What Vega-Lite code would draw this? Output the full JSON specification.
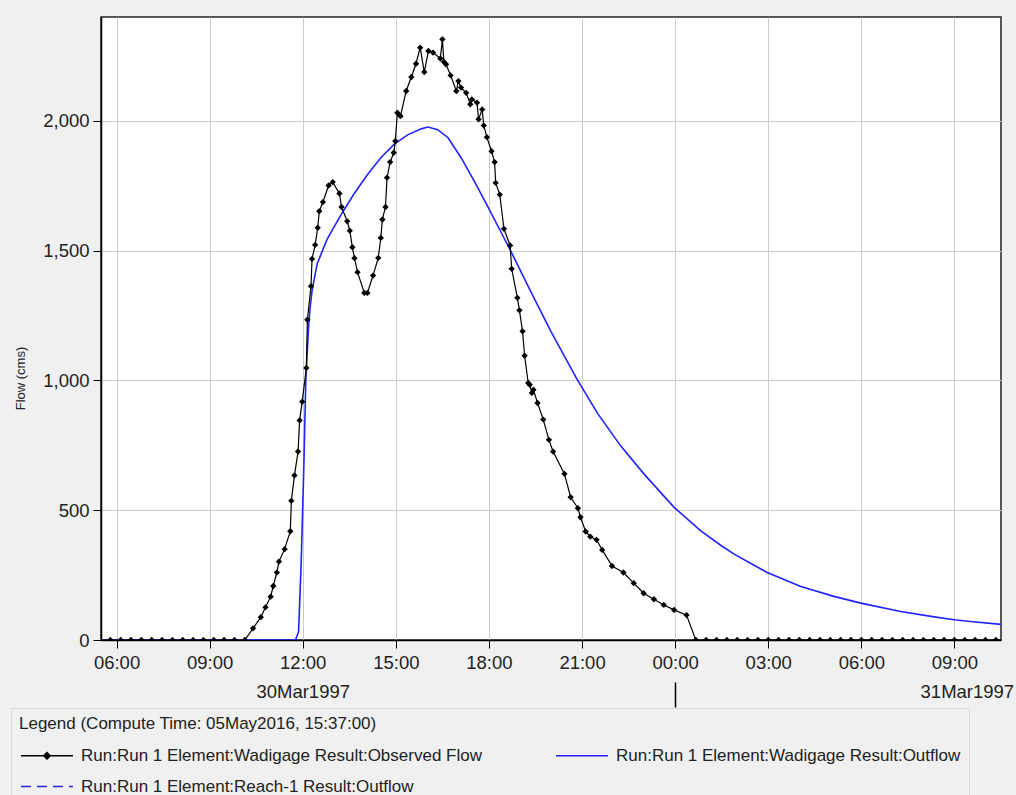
{
  "$schema": "https://vega.github.io/schema/vega-lite/v6.json",
  "width": 900,
  "height": 623,
  "autosize": "none",
  "padding": {"left": 101, "top": 17, "right": 15, "bottom": 155},
  "background": "#f0f0f0",
  "config": {
    "font": "Liberation Sans",
    "view": {"fill": "white", "stroke": "#222222", "strokeWidth": 1.5},
    "axis": {
      "domainColor": "#000000",
      "tickColor": "#000000",
      "labelColor": "#222222",
      "titleColor": "#222222",
      "gridColor": "#cccccc",
      "gridWidth": 1,
      "labelFont": "Liberation Sans",
      "titleFont": "Liberation Sans",
      "labelFontSize": 18.5,
      "titleFontWeight": "normal",
      "labelFlush": false,
      "labelOverlap": false
    },
    "axisY": {"titleFontSize": 13}
  },
  "datasets": {
    "observed": [
      {"time": "1997-03-30T05:28:00Z", "flow": 0},
      {"time": "1997-03-30T05:48:00Z", "flow": 0},
      {"time": "1997-03-30T06:08:00Z", "flow": 0},
      {"time": "1997-03-30T06:28:00Z", "flow": 0},
      {"time": "1997-03-30T06:48:00Z", "flow": 0},
      {"time": "1997-03-30T07:08:00Z", "flow": 0},
      {"time": "1997-03-30T07:28:00Z", "flow": 0},
      {"time": "1997-03-30T07:48:00Z", "flow": 0},
      {"time": "1997-03-30T08:08:00Z", "flow": 0},
      {"time": "1997-03-30T08:28:00Z", "flow": 0},
      {"time": "1997-03-30T08:48:00Z", "flow": 0},
      {"time": "1997-03-30T09:08:00Z", "flow": 0},
      {"time": "1997-03-30T09:28:00Z", "flow": 0},
      {"time": "1997-03-30T09:48:00Z", "flow": 0},
      {"time": "1997-03-30T10:08:00Z", "flow": 0},
      {"time": "1997-03-30T10:24:00Z", "flow": 45},
      {"time": "1997-03-30T10:39:00Z", "flow": 88},
      {"time": "1997-03-30T10:48:00Z", "flow": 126},
      {"time": "1997-03-30T10:58:00Z", "flow": 167},
      {"time": "1997-03-30T11:03:00Z", "flow": 208},
      {"time": "1997-03-30T11:10:00Z", "flow": 260},
      {"time": "1997-03-30T11:14:00Z", "flow": 302},
      {"time": "1997-03-30T11:25:00Z", "flow": 350},
      {"time": "1997-03-30T11:36:00Z", "flow": 419},
      {"time": "1997-03-30T11:38:00Z", "flow": 536},
      {"time": "1997-03-30T11:44:00Z", "flow": 634},
      {"time": "1997-03-30T11:51:00Z", "flow": 726},
      {"time": "1997-03-30T11:54:00Z", "flow": 846},
      {"time": "1997-03-30T11:59:00Z", "flow": 918},
      {"time": "1997-03-30T12:07:00Z", "flow": 1048},
      {"time": "1997-03-30T12:09:00Z", "flow": 1234},
      {"time": "1997-03-30T12:16:00Z", "flow": 1363},
      {"time": "1997-03-30T12:18:00Z", "flow": 1468},
      {"time": "1997-03-30T12:24:00Z", "flow": 1522},
      {"time": "1997-03-30T12:29:00Z", "flow": 1588},
      {"time": "1997-03-30T12:32:00Z", "flow": 1652},
      {"time": "1997-03-30T12:39:00Z", "flow": 1687},
      {"time": "1997-03-30T12:50:00Z", "flow": 1751},
      {"time": "1997-03-30T12:58:00Z", "flow": 1764},
      {"time": "1997-03-30T13:11:00Z", "flow": 1720},
      {"time": "1997-03-30T13:15:00Z", "flow": 1668},
      {"time": "1997-03-30T13:26:00Z", "flow": 1613},
      {"time": "1997-03-30T13:31:00Z", "flow": 1577},
      {"time": "1997-03-30T13:36:00Z", "flow": 1513},
      {"time": "1997-03-30T13:40:00Z", "flow": 1471},
      {"time": "1997-03-30T13:46:00Z", "flow": 1417},
      {"time": "1997-03-30T13:59:00Z", "flow": 1337},
      {"time": "1997-03-30T14:05:00Z", "flow": 1337},
      {"time": "1997-03-30T14:16:00Z", "flow": 1404},
      {"time": "1997-03-30T14:26:00Z", "flow": 1472},
      {"time": "1997-03-30T14:31:00Z", "flow": 1549},
      {"time": "1997-03-30T14:34:00Z", "flow": 1620},
      {"time": "1997-03-30T14:40:00Z", "flow": 1668},
      {"time": "1997-03-30T14:43:00Z", "flow": 1781},
      {"time": "1997-03-30T14:49:00Z", "flow": 1841},
      {"time": "1997-03-30T14:56:00Z", "flow": 1877},
      {"time": "1997-03-30T14:59:00Z", "flow": 1922},
      {"time": "1997-03-30T15:03:00Z", "flow": 2031},
      {"time": "1997-03-30T15:09:00Z", "flow": 2018},
      {"time": "1997-03-30T15:20:00Z", "flow": 2115},
      {"time": "1997-03-30T15:30:00Z", "flow": 2169},
      {"time": "1997-03-30T15:39:00Z", "flow": 2220},
      {"time": "1997-03-30T15:47:00Z", "flow": 2282},
      {"time": "1997-03-30T15:55:00Z", "flow": 2188},
      {"time": "1997-03-30T16:03:00Z", "flow": 2269},
      {"time": "1997-03-30T16:12:00Z", "flow": 2263},
      {"time": "1997-03-30T16:26:00Z", "flow": 2240},
      {"time": "1997-03-30T16:30:00Z", "flow": 2314},
      {"time": "1997-03-30T16:33:00Z", "flow": 2227},
      {"time": "1997-03-30T16:37:00Z", "flow": 2218},
      {"time": "1997-03-30T16:46:00Z", "flow": 2175},
      {"time": "1997-03-30T16:57:00Z", "flow": 2115},
      {"time": "1997-03-30T17:01:00Z", "flow": 2153},
      {"time": "1997-03-30T17:06:00Z", "flow": 2128},
      {"time": "1997-03-30T17:16:00Z", "flow": 2108},
      {"time": "1997-03-30T17:24:00Z", "flow": 2064},
      {"time": "1997-03-30T17:27:00Z", "flow": 2083},
      {"time": "1997-03-30T17:37:00Z", "flow": 2070},
      {"time": "1997-03-30T17:40:00Z", "flow": 2006},
      {"time": "1997-03-30T17:47:00Z", "flow": 2044},
      {"time": "1997-03-30T17:50:00Z", "flow": 1982},
      {"time": "1997-03-30T17:56:00Z", "flow": 1937},
      {"time": "1997-03-30T18:05:00Z", "flow": 1883},
      {"time": "1997-03-30T18:11:00Z", "flow": 1841},
      {"time": "1997-03-30T18:13:00Z", "flow": 1761},
      {"time": "1997-03-30T18:21:00Z", "flow": 1716},
      {"time": "1997-03-30T18:29:00Z", "flow": 1584},
      {"time": "1997-03-30T18:41:00Z", "flow": 1520},
      {"time": "1997-03-30T18:44:00Z", "flow": 1430},
      {"time": "1997-03-30T18:55:00Z", "flow": 1318},
      {"time": "1997-03-30T18:59:00Z", "flow": 1270},
      {"time": "1997-03-30T19:05:00Z", "flow": 1189},
      {"time": "1997-03-30T19:09:00Z", "flow": 1095},
      {"time": "1997-03-30T19:16:00Z", "flow": 990},
      {"time": "1997-03-30T19:19:00Z", "flow": 983},
      {"time": "1997-03-30T19:23:00Z", "flow": 952},
      {"time": "1997-03-30T19:26:00Z", "flow": 964},
      {"time": "1997-03-30T19:34:00Z", "flow": 913},
      {"time": "1997-03-30T19:45:00Z", "flow": 849},
      {"time": "1997-03-30T19:56:00Z", "flow": 771},
      {"time": "1997-03-30T20:04:00Z", "flow": 726},
      {"time": "1997-03-30T20:26:00Z", "flow": 640},
      {"time": "1997-03-30T20:38:00Z", "flow": 550},
      {"time": "1997-03-30T20:52:00Z", "flow": 508},
      {"time": "1997-03-30T20:57:00Z", "flow": 473},
      {"time": "1997-03-30T21:07:00Z", "flow": 418},
      {"time": "1997-03-30T21:16:00Z", "flow": 398},
      {"time": "1997-03-30T21:28:00Z", "flow": 386},
      {"time": "1997-03-30T21:39:00Z", "flow": 347},
      {"time": "1997-03-30T21:58:00Z", "flow": 285},
      {"time": "1997-03-30T22:20:00Z", "flow": 260},
      {"time": "1997-03-30T22:40:00Z", "flow": 219},
      {"time": "1997-03-30T22:59:00Z", "flow": 180},
      {"time": "1997-03-30T23:19:00Z", "flow": 157},
      {"time": "1997-03-30T23:38:00Z", "flow": 135},
      {"time": "1997-03-30T23:58:00Z", "flow": 116},
      {"time": "1997-03-31T00:22:00Z", "flow": 96},
      {"time": "1997-03-31T00:40:00Z", "flow": 0},
      {"time": "1997-03-31T01:00:00Z", "flow": 0},
      {"time": "1997-03-31T01:20:00Z", "flow": 0},
      {"time": "1997-03-31T01:40:00Z", "flow": 0},
      {"time": "1997-03-31T02:00:00Z", "flow": 0},
      {"time": "1997-03-31T02:20:00Z", "flow": 0},
      {"time": "1997-03-31T02:40:00Z", "flow": 0},
      {"time": "1997-03-31T03:00:00Z", "flow": 0},
      {"time": "1997-03-31T03:20:00Z", "flow": 0},
      {"time": "1997-03-31T03:40:00Z", "flow": 0},
      {"time": "1997-03-31T04:00:00Z", "flow": 0},
      {"time": "1997-03-31T04:20:00Z", "flow": 0},
      {"time": "1997-03-31T04:40:00Z", "flow": 0},
      {"time": "1997-03-31T05:00:00Z", "flow": 0},
      {"time": "1997-03-31T05:20:00Z", "flow": 0},
      {"time": "1997-03-31T05:40:00Z", "flow": 0},
      {"time": "1997-03-31T06:00:00Z", "flow": 0},
      {"time": "1997-03-31T06:20:00Z", "flow": 0},
      {"time": "1997-03-31T06:40:00Z", "flow": 0},
      {"time": "1997-03-31T07:00:00Z", "flow": 0},
      {"time": "1997-03-31T07:20:00Z", "flow": 0},
      {"time": "1997-03-31T07:40:00Z", "flow": 0},
      {"time": "1997-03-31T08:00:00Z", "flow": 0},
      {"time": "1997-03-31T08:20:00Z", "flow": 0},
      {"time": "1997-03-31T08:40:00Z", "flow": 0},
      {"time": "1997-03-31T09:00:00Z", "flow": 0},
      {"time": "1997-03-31T09:20:00Z", "flow": 0},
      {"time": "1997-03-31T09:40:00Z", "flow": 0},
      {"time": "1997-03-31T10:00:00Z", "flow": 0},
      {"time": "1997-03-31T10:20:00Z", "flow": 0},
      {"time": "1997-03-31T10:40:00Z", "flow": 0}
    ],
    "outflow": [
      {"time": "1997-03-30T05:30:00Z", "flow": 0},
      {"time": "1997-03-30T11:46:00Z", "flow": 0},
      {"time": "1997-03-30T11:52:00Z", "flow": 32},
      {"time": "1997-03-30T11:57:00Z", "flow": 297},
      {"time": "1997-03-30T12:02:00Z", "flow": 656},
      {"time": "1997-03-30T12:06:00Z", "flow": 1003},
      {"time": "1997-03-30T12:11:00Z", "flow": 1196},
      {"time": "1997-03-30T12:14:00Z", "flow": 1275},
      {"time": "1997-03-30T12:18:00Z", "flow": 1345},
      {"time": "1997-03-30T12:28:00Z", "flow": 1450},
      {"time": "1997-03-30T12:47:00Z", "flow": 1543},
      {"time": "1997-03-30T13:13:00Z", "flow": 1635},
      {"time": "1997-03-30T13:39:00Z", "flow": 1718},
      {"time": "1997-03-30T14:05:00Z", "flow": 1792},
      {"time": "1997-03-30T14:31:00Z", "flow": 1858},
      {"time": "1997-03-30T14:57:00Z", "flow": 1910},
      {"time": "1997-03-30T15:23:00Z", "flow": 1946},
      {"time": "1997-03-30T15:49:00Z", "flow": 1969},
      {"time": "1997-03-30T16:02:00Z", "flow": 1976},
      {"time": "1997-03-30T16:21:00Z", "flow": 1966},
      {"time": "1997-03-30T16:41:00Z", "flow": 1935},
      {"time": "1997-03-30T17:07:00Z", "flow": 1855},
      {"time": "1997-03-30T17:33:00Z", "flow": 1763},
      {"time": "1997-03-30T17:59:00Z", "flow": 1665},
      {"time": "1997-03-30T18:25:00Z", "flow": 1565},
      {"time": "1997-03-30T18:41:00Z", "flow": 1503},
      {"time": "1997-03-30T19:20:00Z", "flow": 1346},
      {"time": "1997-03-30T20:00:00Z", "flow": 1188},
      {"time": "1997-03-30T20:51:00Z", "flow": 1002},
      {"time": "1997-03-30T21:30:00Z", "flow": 873},
      {"time": "1997-03-30T22:15:00Z", "flow": 747},
      {"time": "1997-03-30T23:00:00Z", "flow": 639},
      {"time": "1997-03-30T23:58:00Z", "flow": 511},
      {"time": "1997-03-31T00:49:00Z", "flow": 421},
      {"time": "1997-03-31T01:28:00Z", "flow": 365},
      {"time": "1997-03-31T01:54:00Z", "flow": 331},
      {"time": "1997-03-31T02:58:00Z", "flow": 260},
      {"time": "1997-03-31T04:03:00Z", "flow": 206},
      {"time": "1997-03-31T05:07:00Z", "flow": 168},
      {"time": "1997-03-31T05:59:00Z", "flow": 142},
      {"time": "1997-03-31T07:16:00Z", "flow": 110},
      {"time": "1997-03-31T08:21:00Z", "flow": 89},
      {"time": "1997-03-31T09:00:00Z", "flow": 78},
      {"time": "1997-03-31T09:26:00Z", "flow": 72},
      {"time": "1997-03-31T10:30:00Z", "flow": 60}
    ]
  },
  "resolve": {"axis": {"x": "independent"}},
  "encoding": {
    "y": {
      "field": "flow", "type": "quantitative",
      "scale": {"domain": [0, 2400], "nice": false},
      "axis": {
        "values": [0, 500, 1000, 1500, 2000],
        "labelExpr": "format(datum.value, ',')",
        "grid": true,
        "tickSize": 8,
        "labelPadding": 4,
        "title": "Flow (cms)",
        "titleFontSize": 13,
        "titleAngle": -90,
        "titleX": -81,
        "titleY": 361,
        "titleAlign": "center",
        "titleBaseline": "middle",
        "domainWidth": 1.5
      }
    }
  },
  "layer": [
    {
      "data": {"name": "outflow"},
      "mark": {"type": "line", "strokeWidth": 1.6, "clip": true},
      "encoding": {
        "x": {
          "field": "time", "type": "temporal",
          "scale": {"type": "utc", "domain": [
            {"year": 1997, "month": "Mar", "date": 30, "hours": 5, "minutes": 30, "utc": true},
            {"year": 1997, "month": "Mar", "date": 31, "hours": 10, "minutes": 30, "utc": true}]},
          "axis": {
            "orient": "bottom",
            "title": null,
            "values": [
              {"year": 1997, "month": "Mar", "date": 30, "hours": 6, "utc": true},
              {"year": 1997, "month": "Mar", "date": 30, "hours": 9, "utc": true},
              {"year": 1997, "month": "Mar", "date": 30, "hours": 12, "utc": true},
              {"year": 1997, "month": "Mar", "date": 30, "hours": 15, "utc": true},
              {"year": 1997, "month": "Mar", "date": 30, "hours": 18, "utc": true},
              {"year": 1997, "month": "Mar", "date": 30, "hours": 21, "utc": true},
              {"year": 1997, "month": "Mar", "date": 31, "hours": 0, "utc": true},
              {"year": 1997, "month": "Mar", "date": 31, "hours": 3, "utc": true},
              {"year": 1997, "month": "Mar", "date": 31, "hours": 6, "utc": true},
              {"year": 1997, "month": "Mar", "date": 31, "hours": 9, "utc": true}
            ],
            "labelExpr": "utcFormat(datum.value, '%H:%M')",
            "grid": true,
            "tickSize": 8,
            "labelPadding": 5,
            "domainWidth": 1.5
          }
        },
        "color": {
          "datum": "Run:Run 1 Element:Wadigage Result:Outflow",
          "type": "nominal",
          "scale": {
            "domain": ["Run:Run 1 Element:Wadigage Result:Observed Flow", "Run:Run 1 Element:Wadigage Result:Outflow", "Run:Run 1 Element:Reach-1 Result:Outflow"],
            "range": ["#000000", "#2222ff", "#2222ff"]
          },
          "legend": {
            "orient": "none",
            "direction": "horizontal",
            "legendX": -90,
            "legendY": 691,
            "title": "Legend (Compute Time: 05May2016, 15:37:00)",
            "titleLimit": 800,
            "titleFontSize": 17,
            "titleFontWeight": "normal",
            "titleFont": "Liberation Sans",
            "titleColor": "#222222",
            "titlePadding": 14,
            "columns": 2,
            "columnPadding": 71,
            "rowPadding": 13,
            "padding": 8,
            "strokeColor": "#d8d8d8",
            "symbolSize": 169,
            "symbolStrokeWidth": 1.5,
            "symbolType": "M-1,0L7,0",
            "labelOffset": 45,
            "labelLimit": 700,
            "labelFontSize": 17,
            "labelFont": "Liberation Sans",
            "labelColor": "#222222",
            "encode": {
              "symbols": {
                "update": {
                  "shape": {"signal": "datum.value === 'Run:Run 1 Element:Wadigage Result:Observed Flow' ? 'M-1,0L7,0M2.5,0L3,-0.5L3.5,0L3,0.5Z' : 'M-1,0L7,0'"},
                  "fill": {"signal": "datum.value === 'Run:Run 1 Element:Wadigage Result:Observed Flow' ? '#000000' : 'transparent'"},
                  "strokeDash": {"signal": "datum.value === 'Run:Run 1 Element:Reach-1 Result:Outflow' ? [10, 6] : [1, 0]"}
                }
              }
            }
          }
        }
      }
    },
    {
      "data": {"name": "observed"},
      "mark": {"type": "line", "strokeWidth": 1.2, "clip": true},
      "encoding": {
        "x": {"field": "time", "type": "temporal", "scale": {"type": "utc"}, "axis": null},
        "color": {"datum": "Run:Run 1 Element:Wadigage Result:Observed Flow", "type": "nominal"}
      }
    },
    {
      "data": {"name": "observed"},
      "mark": {"type": "point", "shape": "diamond", "filled": true, "size": 40, "opacity": 1, "color": "#000000", "clip": true},
      "encoding": {
        "x": {
          "field": "time", "type": "temporal", "scale": {"type": "utc"},
          "axis": {
            "orient": "bottom",
            "title": null,
            "offset": 42,
            "domain": false,
            "grid": false,
            "values": [
              {"year": 1997, "month": "Mar", "date": 30, "hours": 12, "utc": true},
              {"year": 1997, "month": "Mar", "date": 31, "hours": 0, "utc": true},
              {"year": 1997, "month": "Mar", "date": 31, "hours": 9, "minutes": 24, "utc": true}
            ],
            "labelExpr": "utchours(datum.value) == 0 && utcminutes(datum.value) == 0 ? '' : utcFormat(datum.value, '%d%b%Y')",
            "tickSize": 25,
            "tickWidth": 1.5,
            "tickOpacity": {"condition": {"test": "utchours(datum.value) == 0", "value": 1}, "value": 0},
            "labelPadding": -25
          }
        }
      }
    }
  ]
}
